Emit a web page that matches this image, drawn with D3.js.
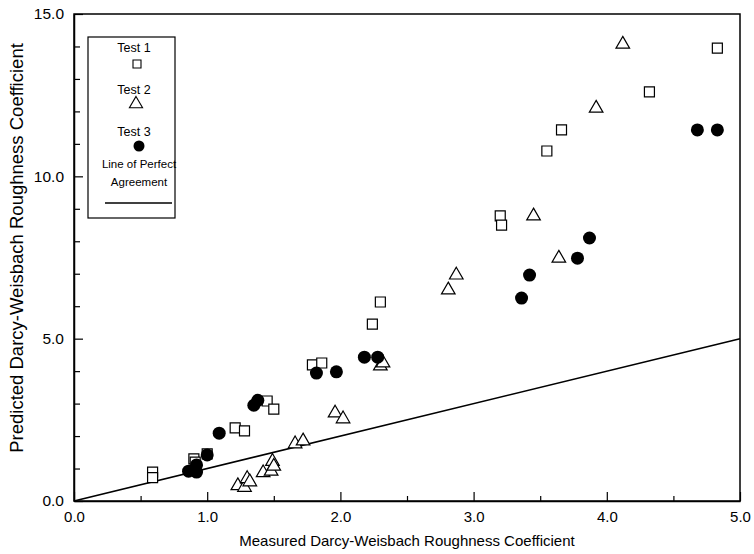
<!DOCTYPE html>
<html>
<head>
<meta charset="utf-8">
<script src="https://cdn.jsdelivr.net/npm/d3@7"></script>
<style>
  body { margin: 0; background: #fff; }
  svg text { font-family: "Liberation Sans", Arial, sans-serif; fill: #000; }
</style>
</head>
<body>
<div id="vis"></div>
<script>
// measured (x) vs predicted (y) roughness values
const test1 = [
  [0.59, 0.89], [0.59, 0.72], [0.90, 1.30], [0.91, 1.20], [1.00, 1.45],
  [1.21, 2.25], [1.28, 2.16], [1.45, 3.08], [1.50, 2.83], [1.79, 4.19],
  [1.86, 4.25], [2.24, 5.45], [2.30, 6.13], [3.20, 8.78], [3.21, 8.50],
  [3.55, 10.78], [3.66, 11.43], [4.32, 12.60], [4.83, 13.95]
];
const test2 = [
  [1.23, 0.50], [1.28, 0.45], [1.30, 0.72], [1.32, 0.62], [1.42, 0.90],
  [1.48, 0.95], [1.49, 1.25], [1.50, 1.10], [1.66, 1.79], [1.72, 1.88],
  [1.96, 2.74], [2.02, 2.56], [2.30, 4.19], [2.32, 4.28], [2.81, 6.53],
  [2.87, 6.99], [3.45, 8.81], [3.64, 7.51], [3.92, 12.13], [4.12, 14.10]
];
const test3 = [
  [0.86, 0.92], [0.92, 1.11], [0.92, 0.89], [1.00, 1.42], [1.09, 2.09],
  [1.35, 2.95], [1.38, 3.10], [1.82, 3.94], [1.97, 3.98], [2.18, 4.43],
  [2.28, 4.43], [3.36, 6.25], [3.42, 6.96], [3.78, 7.48], [3.87, 8.10],
  [4.68, 11.43], [4.83, 11.43]
];
const perfectLine = [[0, 0], [5, 5]];
const xTicks = [0, 1, 2, 3, 4, 5];
const yTicks = [0, 5, 10, 15];
const legendLabels = ["Test 1", "Test 2", "Test 3"];

const size = { width: 754, height: 554 };
const margin = { left: 74, right: 14, top: 14, bottom: 53 };

const svg = d3.select("#vis")
  .append("svg")
  .attr("width", size.width)
  .attr("height", size.height);

const x = d3.scaleLinear()
  .domain([0, 5])
  .range([margin.left, size.width - margin.right]);

const y = d3.scaleLinear()
  .domain([0, 15])
  .range([size.height - margin.bottom, margin.top]);

// frame
svg.append("rect")
  .attr("x", x(0))
  .attr("y", y(15))
  .attr("width", x(5) - x(0))
  .attr("height", y(0) - y(15))
  .attr("fill", "none")
  .attr("stroke", "#000")
  .attr("stroke-width", 1.5);

// axes with inward ticks
const xAxis = svg.append("g")
  .attr("transform", `translate(0, ${y(0)})`)
  .call(d3.axisBottom(x).tickValues(d3.range(0, 5.01, 0.5))
    .tickSize(0).tickFormat(""));
xAxis.select(".domain").attr("stroke-width", 1.5);
xAxis.selectAll(".tick line")
  .attr("y2", d => Number.isInteger(d) ? -9 : -5)
  .attr("stroke-width", 1.2);

svg.append("g")
  .attr("transform", `translate(0, ${y(0)})`)
  .call(d3.axisBottom(x).tickValues(xTicks).tickSize(0).tickPadding(10)
    .tickFormat(d3.format(".1f")))
  .call(g => g.select(".domain").remove())
  .selectAll("text")
  .style("font-size", "15px");

const yAxis = svg.append("g")
  .attr("transform", `translate(${x(0)}, 0)`)
  .call(d3.axisLeft(y).tickValues(d3.range(0, 15.01, 1))
    .tickSize(0).tickFormat(""));
yAxis.select(".domain").attr("stroke-width", 1.5);
yAxis.selectAll(".tick line")
  .attr("x2", d => d % 5 === 0 ? 9 : 6)
  .attr("stroke-width", 1.2);

svg.append("g")
  .attr("transform", `translate(${x(0)}, 0)`)
  .call(d3.axisLeft(y).tickValues(yTicks).tickSize(0).tickPadding(10)
    .tickFormat(d3.format(".1f")))
  .call(g => g.select(".domain").remove())
  .selectAll("text")
  .style("font-size", "15.5px");

// axis titles
svg.append("text")
  .attr("x", (x(0) + x(5)) / 2)
  .attr("y", 546)
  .attr("text-anchor", "middle")
  .style("font-size", "15px")
  .text("Measured Darcy-Weisbach Roughness Coefficient");

svg.append("text")
  .attr("transform", `translate(23, 248) rotate(-90)`)
  .attr("text-anchor", "middle")
  .style("font-size", "18.5px")
  .text("Predicted Darcy-Weisbach Roughness Coefficient");

// line of perfect agreement
svg.append("path")
  .datum(perfectLine)
  .attr("d", d3.line().x(d => x(d[0])).y(d => y(d[1])))
  .attr("fill", "none")
  .attr("stroke", "#000")
  .attr("stroke-width", 1.6);

// markers
const square = d3.symbol().type(d3.symbolSquare).size(100);
const triangle = d3.symbol().type(d3.symbolTriangle).size(80);

svg.append("g").selectAll("path")
  .data(test1)
  .join("path")
  .attr("transform", d => `translate(${x(d[0])}, ${y(d[1])})`)
  .attr("d", square)
  .attr("fill", "#fff")
  .attr("stroke", "#000")
  .attr("stroke-width", 1.2);

svg.append("g").selectAll("path")
  .data(test2)
  .join("path")
  .attr("transform", d => `translate(${x(d[0])}, ${y(d[1]) + 1})`)
  .attr("d", triangle)
  .attr("fill", "#fff")
  .attr("stroke", "#000")
  .attr("stroke-width", 1.2);

svg.append("g").selectAll("circle")
  .data(test3)
  .join("circle")
  .attr("cx", d => x(d[0]))
  .attr("cy", d => y(d[1]))
  .attr("r", 6.5)
  .attr("fill", "#000");

// legend
const legend = svg.append("g");
legend.append("rect")
  .attr("x", 88).attr("y", 37)
  .attr("width", 87).attr("height", 181)
  .attr("fill", "#fff")
  .attr("stroke", "#000")
  .attr("stroke-width", 1.2);

legend.selectAll(".lbl")
  .data(legendLabels)
  .join("text")
  .attr("class", "lbl")
  .attr("x", 134)
  .attr("y", (d, i) => 52 + i * 42)
  .attr("text-anchor", "middle")
  .style("font-size", "12.5px")
  .text(d => d);

legend.append("path")
  .attr("transform", "translate(137, 64)")
  .attr("d", d3.symbol().type(d3.symbolSquare).size(64)())
  .attr("fill", "#fff").attr("stroke", "#000").attr("stroke-width", 1.1);
legend.append("path")
  .attr("transform", "translate(136, 104)")
  .attr("d", d3.symbol().type(d3.symbolTriangle).size(75)())
  .attr("fill", "#fff").attr("stroke", "#000").attr("stroke-width", 1.1);
legend.append("circle")
  .attr("cx", 139).attr("cy", 146).attr("r", 5.5)
  .attr("fill", "#000");

legend.append("text")
  .attr("x", 139).attr("y", 168)
  .attr("text-anchor", "middle")
  .style("font-size", "11.5px")
  .text("Line of Perfect");
legend.append("text")
  .attr("x", 139).attr("y", 186)
  .attr("text-anchor", "middle")
  .style("font-size", "11.5px")
  .text("Agreement");
legend.append("line")
  .attr("x1", 105).attr("x2", 172)
  .attr("y1", 203).attr("y2", 203)
  .attr("stroke", "#000")
  .attr("stroke-width", 1.6);
</script>
</body>
</html>
